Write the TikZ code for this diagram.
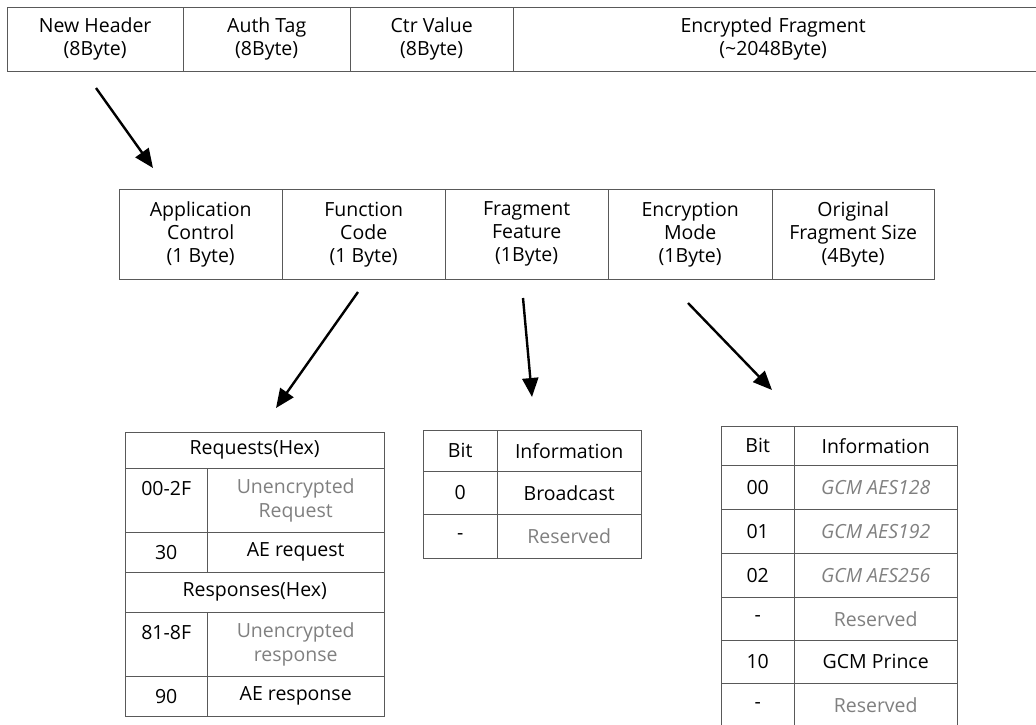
\documentclass[tikz,border=0pt]{standalone}
\usepackage{fontspec}
\setmainfont{Open Sans}
\usetikzlibrary{arrows.meta}
\tikzstyle{field} = [draw=black!65, rectangle, anchor=north west, align=center,
    inner sep=0pt, font=\fontsize{19.5}{23}\selectfont]
\tikzstyle{cell} = [field, font=\fontsize{19.5}{24}\selectfont]
\tikzstyle{greytext} = [text=black!50]
\tikzstyle{bigarrow} = [-{Triangle[length=19pt,width=16pt]}, line width=2.4pt]

\begin{document}
\begin{tikzpicture}[x=1pt, y=-1pt]
	\useasboundingbox (0,0) rectangle (1036,724);

	% Outer frame
	\node [field, minimum width=176, minimum height=64] (hdr) at (7,7) {New Header\\(8Byte)};
	\node [field, minimum width=167, minimum height=64] (tag) at (183,7) {Auth Tag\\(8Byte)};
	\node [field, minimum width=163, minimum height=64] (ctr) at (350,7) {Ctr Value\\(8Byte)};
	\node [field, minimum width=540, minimum height=64, text width=520] (frag) at (513,7)
		{\hspace*{-20pt}Encrypted Fragment\\\hspace*{-20pt}(\textasciitilde2048Byte)};

	% New header fields
	\node [field, minimum width=163, minimum height=90] (app) at (119,189) {Application\\Control\\(1 Byte)};
	\node [field, minimum width=163, minimum height=90] (func) at (282,189) {Function\\Code\\(1 Byte)};
	\node [field, minimum width=163, minimum height=90] (feat) at (445,189) {Fragment\\Feature\\(1Byte)};
	\node [field, minimum width=164, minimum height=90] (mode) at (608,189) {Encryption\\Mode\\(1Byte)};
	\node [field, minimum width=162, minimum height=90] (size) at (772,189) {Original\\Fragment Size\\(4Byte)};

	% Function codes
	\node [cell, minimum width=259, minimum height=36] (req) at (125,432) {Requests(Hex)};
	\node [cell, minimum width=82, minimum height=64] (reqa) at (125,468) {00-2F\\\mbox{}};
	\node [cell, greytext, minimum width=177, minimum height=64] (reqb) at (207,468) {Unencrypted\\Request};
	\node [cell, minimum width=82, minimum height=40] (aereqa) at (125,532) {30};
	\node [cell, minimum width=177, minimum height=40] (aereqb) at (207,532) {AE request};
	\node [cell, minimum width=259, minimum height=40] (resp) at (125,572) {Responses(Hex)};
	\node [cell, minimum width=82, minimum height=64] (respa) at (125,612) {81-8F\\\mbox{}};
	\node [cell, greytext, minimum width=177, minimum height=64] (respb) at (207,612) {Unencrypted\\response};
	\node [cell, minimum width=82, minimum height=40] (aerespa) at (125,676) {90};
	\node [cell, minimum width=177, minimum height=40] (aerespb) at (207,676) {AE response};

	% Fragment feature bits
	\node [cell, minimum width=74, minimum height=41] (fbit) at (423,430) {Bit};
	\node [cell, minimum width=144, minimum height=41] (finfo) at (497,430) {Information};
	\node [cell, minimum width=74, minimum height=43] (fb0) at (423,471) {0};
	\node [cell, minimum width=144, minimum height=43] (fi0) at (497,471) {Broadcast};
	\node [cell, minimum width=74, minimum height=44] (fb1) at (423,514) {-};
	\node [cell, greytext, minimum width=144, minimum height=44] (fi1) at (497,514) {Reserved};

	% Encryption modes
	\node [cell, minimum width=73, minimum height=39] (mbit) at (721,426) {Bit};
	\node [cell, minimum width=163, minimum height=39] (minfo) at (794,426) {Information};
	\node [cell, minimum width=73, minimum height=44] (mb0) at (721,465) {00};
	\node [cell, greytext, minimum width=163, minimum height=44] (mi0) at (794,465) {\itshape GCM AES128};
	\node [cell, minimum width=73, minimum height=44] (mb1) at (721,509) {01};
	\node [cell, greytext, minimum width=163, minimum height=44] (mi1) at (794,509) {\itshape GCM AES192};
	\node [cell, minimum width=73, minimum height=44] (mb2) at (721,553) {02};
	\node [cell, greytext, minimum width=163, minimum height=44] (mi2) at (794,553) {\itshape GCM AES256};
	\node [cell, minimum width=73, minimum height=43] (mb3) at (721,597) {-};
	\node [cell, greytext, minimum width=163, minimum height=43] (mi3) at (794,597) {Reserved};
	\node [cell, minimum width=73, minimum height=43] (mb4) at (721,640) {10};
	\node [cell, minimum width=163, minimum height=43] (mi4) at (794,640) {GCM Prince};
	\node [cell, minimum width=73, minimum height=44] (mb5) at (721,683) {-};
	\node [cell, greytext, minimum width=163, minimum height=44] (mi5) at (794,683) {Reserved};

	% Arrow ends
	\coordinate (hdrout) at (96,88);
	\coordinate (appin) at (153,168);
	\coordinate (funcout) at (358,292);
	\coordinate (reqin) at (276,408);
	\coordinate (featout) at (523,298);
	\coordinate (fbitin) at (532,397);
	\coordinate (modeout) at (688,303);
	\coordinate (mbitin) at (772,390);

	\draw [bigarrow] (hdrout) -- (appin);
	\draw [bigarrow] (funcout) -- (reqin);
	\draw [bigarrow] (featout) -- (fbitin);
	\draw [bigarrow] (modeout) -- (mbitin);
\end{tikzpicture}
\end{document}
